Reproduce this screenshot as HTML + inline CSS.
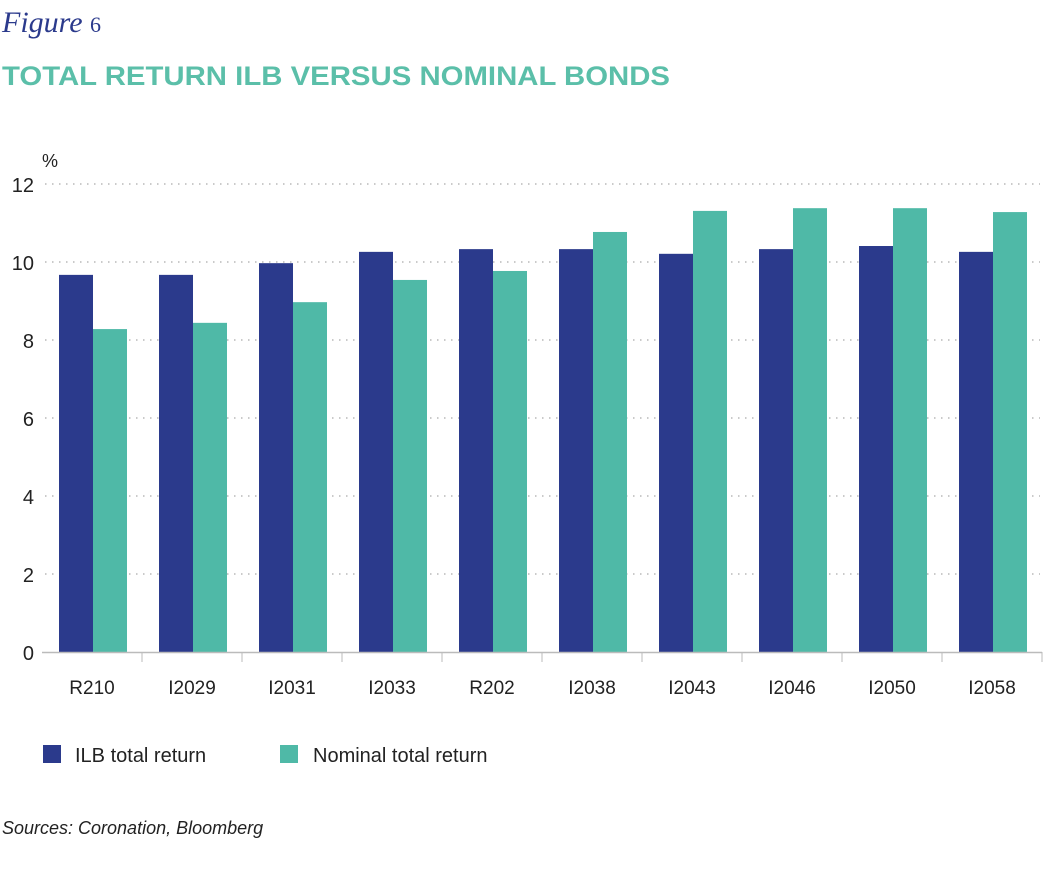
<!DOCTYPE html>
<html><head><meta charset="utf-8"><style>
body{margin:0;background:#fff;width:1063px;height:877px;overflow:hidden;font-family:"Liberation Sans",sans-serif}
</style></head><body>
<svg width="1063" height="877">
<text x="2" y="32" font-family="Liberation Serif" font-style="italic" font-size="30" fill="#2b3a8c">Figure <tspan font-style="normal" font-size="22">6</tspan></text>
<text x="2" y="85" font-size="27" font-weight="bold" fill="#5bbfa9" textLength="668" lengthAdjust="spacingAndGlyphs">TOTAL RETURN ILB VERSUS NOMINAL BONDS</text>
<text x="42" y="167" font-size="18" fill="#222">%</text>
<g id="grid"></g><g id="bars"></g><g id="axis"></g>
<g>
<rect x="43" y="745" width="18" height="18" fill="#2b3a8c"/>
<text x="75" y="762" font-size="20" fill="#222">ILB total return</text>
<rect x="280" y="745" width="18" height="18" fill="#4fb9a7"/>
<text x="313" y="762" font-size="20" fill="#222">Nominal total return</text>
</g>
<text x="2" y="834" font-size="18" font-style="italic" fill="#222">Sources: Coronation, Bloomberg</text>
</svg>
<script>
const categories=["R210","I2029","I2031","I2033","R202","I2038","I2043","I2046","I2050","I2058"];
const ilb=[9.67,9.67,9.97,10.26,10.33,10.33,10.21,10.33,10.41,10.26];
const nominal=[8.28,8.44,8.97,9.54,9.77,10.77,11.31,11.38,11.38,11.28];
const yTicks=[0,2,4,6,8,10,12];
const NS="http://www.w3.org/2000/svg";
const x0=42,bandW=100,yBase=652,pxPer=39;
const y=v=>yBase-v*pxPer;
const bx=i=>x0+i*bandW;
function mk(t,a,p){const e=document.createElementNS(NS,t);for(const k in a)e.setAttribute(k,a[k]);document.getElementById(p).appendChild(e);return e;}
yTicks.forEach(t=>{
  if(t>0){const l=mk('line',{x1:45,x2:1040,y1:y(t),y2:y(t),stroke:'#aaa','stroke-width':1.2,'stroke-dasharray':'1.5 5.5'},'grid');
  
  }
  const tx=mk('text',{x:34,y:y(t)+8,'text-anchor':'end','font-size':20,fill:'#222'},'axis');tx.textContent=t;
  
  
});
categories.forEach((c,i)=>{
  const a=mk('rect',{x:bx(i)+17,y:y(ilb[i]),width:34,height:ilb[i]*pxPer,fill:'#2b3a8c'},'bars');
  
  
  const b=mk('rect',{x:bx(i)+51,y:y(nominal[i]),width:34,height:nominal[i]*pxPer,fill:'#4fb9a7'},'bars');
  
  
  const tl=mk('text',{x:bx(i)+50,y:694,'text-anchor':'middle','font-size':19,fill:'#222'},'axis');tl.textContent=c;
  
  
  const tk=mk('line',{x1:bx(i+1),x2:bx(i+1),y1:yBase,y2:yBase+10,stroke:'#bbb'},'axis');
  
  
});
const ax=mk('line',{x1:42,x2:1042,y1:yBase+0.5,y2:yBase+0.5,stroke:'#bbb','stroke-width':1.5},'axis');


</script>
</body></html>
